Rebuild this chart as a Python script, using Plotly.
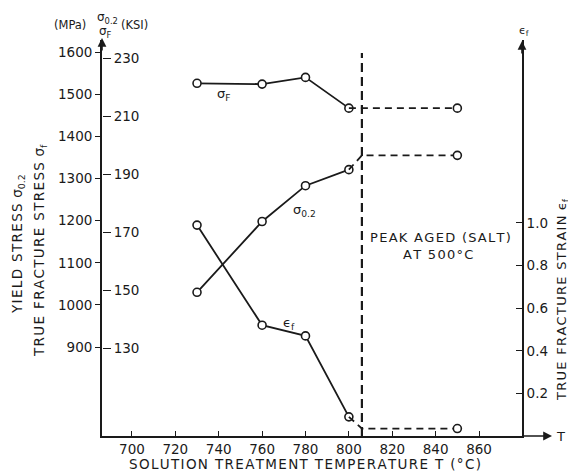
import plotly.graph_objects as go

# ---- data ----
temps = [730, 760, 780, 800]                 # solution treatment temperature (°C)
sigma_f = [1526, 1524, 1540, 1467]           # true fracture stress (MPa)
sigma_02 = [1030, 1198, 1283, 1321]          # yield stress (MPa)
eps_f = [0.99, 0.52, 0.47, 0.09]             # true fracture strain

peak_line_t = 806                             # position of "peak aged" divider
peak_t = 850                                  # peak aged (salt) at 500°C points
sigma_f_peak = 1467
sigma_02_peak = 1355
eps_f_peak = 0.035

x_ticks = [700, 720, 740, 760, 780, 800, 820, 840, 860]
mpa_ticks = [900, 1000, 1100, 1200, 1300, 1400, 1500, 1600]
ksi_ticks = [130, 150, 170, 190, 210, 230]
eps_ticks = [0.2, 0.4, 0.6, 0.8, 1.0]

MPA_PER_KSI = 6.895
x_range = [686.2, 879.8]
mpa_range = [689, 1628.7]
eps_range = [0, 1.859]

INK = "#1a1a1a"
FONT = "DejaVu Sans"
# page has an 8px body margin, so the figure is drawn 8px in from the window corner
OFF = 8
W, H = 576 - OFF, 473 - OFF
PL, PR, PT, PB = 102, 522, 40, 436            # plot area in window pixels
L, T = PL - OFF, PT - OFF
R = W - (PR - OFF)
B = H - (PB - OFF)

HAIR = "\u200a"


def spaced(s, sep=HAIR):
    return sep.join(s)


def px(xp):
    return (xp - PL) / (PR - PL)


def py(yp):
    return (PB - yp) / (PB - PT)


fig = go.Figure()

line = dict(color=INK, width=1.8)
marker = dict(symbol="circle", size=8, color="white", line=dict(color=INK, width=1.6))
dash = dict(color=INK, width=1.8, dash="7px,5px")

# solid series
fig.add_trace(go.Scatter(x=temps, y=sigma_f, mode="lines+markers", line=line, marker=marker, yaxis="y"))
fig.add_trace(go.Scatter(x=temps, y=sigma_02, mode="lines+markers", line=line, marker=marker, yaxis="y"))
fig.add_trace(go.Scatter(x=temps, y=eps_f, mode="lines+markers", line=line, marker=marker, yaxis="y2"))

# dashed peak-aged connections
fig.add_trace(go.Scatter(x=[temps[-1], peak_line_t, peak_t], y=[sigma_f[-1], sigma_f_peak, sigma_f_peak],
                         mode="lines", line=dash, yaxis="y"))
fig.add_trace(go.Scatter(x=[temps[-1], peak_line_t, peak_t], y=[sigma_02[-1], sigma_02_peak, sigma_02_peak],
                         mode="lines", line=dash, yaxis="y"))
fig.add_trace(go.Scatter(x=[temps[-1], peak_line_t, peak_t], y=[eps_f[-1], eps_f_peak, eps_f_peak],
                         mode="lines", line=dash, yaxis="y2"))
fig.add_trace(go.Scatter(x=[peak_t, peak_t], y=[sigma_f_peak, sigma_02_peak], mode="markers",
                         marker=marker, yaxis="y"))
fig.add_trace(go.Scatter(x=[peak_t], y=[eps_f_peak], mode="markers", marker=marker, yaxis="y2"))

# vertical dashed divider
fig.add_shape(type="line", xref="x", yref="paper", x0=peak_line_t, x1=peak_line_t, y0=0, y1=py(53),
              line=dict(color=INK, width=2.2, dash="9px,5px"))

tickfont = dict(family=FONT, size=13.5, color=INK)

fig.update_layout(
    width=W, height=H, margin=dict(l=L, r=R, t=T, b=B),
    paper_bgcolor="white", plot_bgcolor="white", showlegend=False,
    font=dict(family=FONT, color=INK, size=12),
    xaxis=dict(range=x_range, tickvals=x_ticks, ticks="inside", ticklen=5, tickwidth=1, tickcolor=INK,
               showline=True, linecolor=INK, linewidth=1.8, showgrid=False, zeroline=False,
               tickfont=tickfont, automargin=False, fixedrange=True),
    yaxis=dict(range=mpa_range, tickvals=mpa_ticks, ticks="outside", ticklen=5, tickwidth=1.2, tickcolor=INK,
               showline=True, linecolor=INK, linewidth=1.8, showgrid=False, zeroline=False,
               tickfont=tickfont, automargin=False, ticklabelstandoff=0),
    yaxis2=dict(range=eps_range, tickvals=eps_ticks, tickformat=".1f", ticks="inside", ticklen=6,
                tickwidth=1.2, tickcolor=INK, side="right", overlaying="y", anchor="x",
                showline=True, linecolor=INK, linewidth=1.8, showgrid=False, zeroline=False,
                tickfont=tickfont, automargin=False),
    yaxis3=dict(range=[mpa_range[0] / MPA_PER_KSI, mpa_range[1] / MPA_PER_KSI], tickvals=ksi_ticks,
                ticks="outside", ticklen=8, tickwidth=1.2, tickcolor=INK, side="right", overlaying="y",
                anchor="free", position=0, showline=False, showgrid=False, zeroline=False,
                tickfont=tickfont, automargin=False),
)
# invisible trace so the KSI axis renders
fig.add_trace(go.Scatter(x=[x_range[0]], y=[ksi_ticks[0]], yaxis="y3", mode="markers",
                         marker=dict(opacity=0), hoverinfo="skip"))

ann = []


def text(x, y, s, size=12, angle=0, xanchor="center"):
    ann.append(dict(xref="paper", yref="paper", x=px(x), y=py(y), text=s, showarrow=False,
                    font=dict(family=FONT, size=size, color=INK), textangle=angle, xanchor=xanchor,
                    yanchor="middle"))


def arrow(x, y, ax, ay):
    ann.append(dict(xref="paper", yref="paper", x=px(x), y=py(y), text="", showarrow=True,
                    arrowhead=2, arrowsize=1.1, arrowwidth=1.6, arrowcolor=INK, ax=ax, ay=ay))


# axis arrows
arrow(PL, 38, 0, 14)
arrow(PR, 41, 0, 14)
arrow(552, PB, -30, 0)

text(560, PB, "T", 13)
text(524, 31, "ϵ<sub>f</sub>", 11)

# top-left unit label
text(70, 25, "(MPa)", 11.5)
text(107, 18, "σ<sub>0.2</sub>", 12)
text(105, 32, "σ<sub>F</sub>", 12)
text(134, 25, "(KSI)", 11.5)

# axis titles
text(18, 244, spaced("YIELD STRESS ") + "σ<sub>0.2</sub>", 13.5, -90)
text(40, 251, spaced("TRUE FRACTURE STRESS ") + "σ<sub>f</sub>", 13.5, -90)
text(562, 300, spaced("TRUE FRACTURE STRAIN ") + "ϵ<sub>f</sub>", 13, -90)
text(305, 464, spaced("SOLUTION TREATMENT TEMPERATURE T (°C)"), 13.5)

# series labels
text(223, 94, "σ<sub>F</sub>", 13)
text(304, 210, "σ<sub>0.2</sub>", 13)
text(289, 323, "ϵ<sub>f</sub>", 13)

# peak-aged note
text(440, 237, spaced("PEAK AGED (SALT)"), 13)
text(438, 254, spaced("AT 500°C"), 13)

fig.update_layout(annotations=ann)

fig.write_html("out.html")
